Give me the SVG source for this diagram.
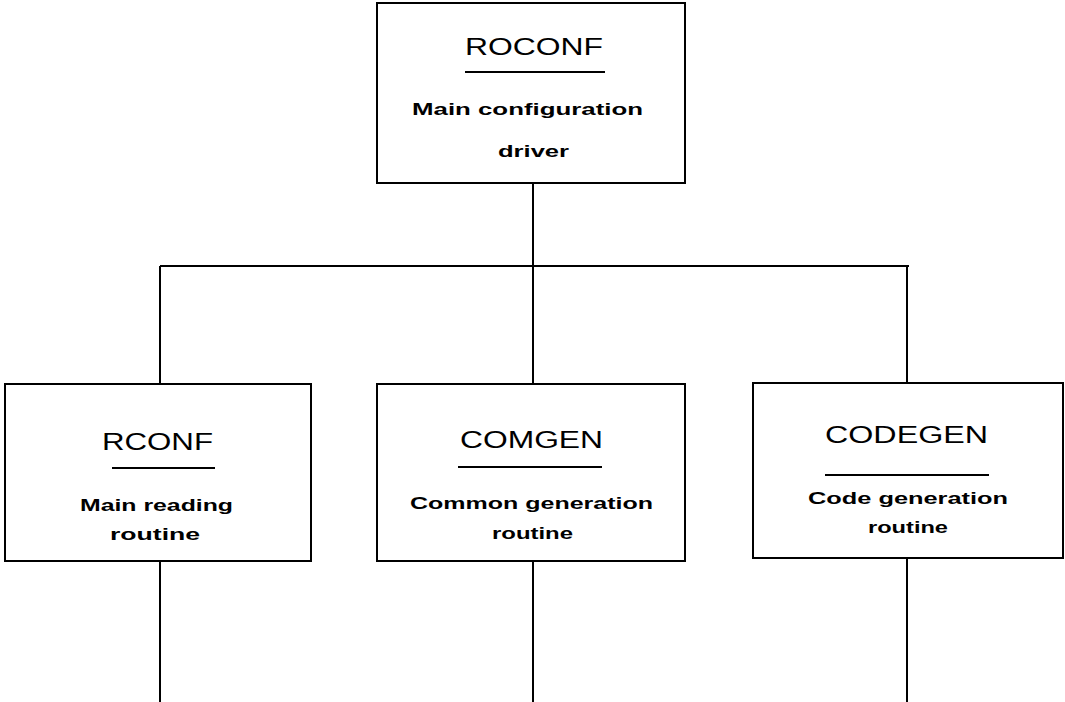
<svg xmlns="http://www.w3.org/2000/svg" width="1065" height="702" viewBox="0 0 1065 702">
<style>
.box{fill:#fff;stroke:#000;stroke-width:2}
.wire{fill:none;stroke:#000;stroke-width:2}
.ul{stroke:#000;stroke-width:2}
.t{font-family:"Liberation Sans",Arial,sans-serif;font-size:23px;fill:#000}
.s{font-family:"Liberation Sans",Arial,sans-serif;font-size:17px;font-weight:bold;fill:#000}
</style>
<rect width="1065" height="702" fill="#fff"/>
<g id="connectors">
<path class="wire" d="M533 183 V266"/>
<path class="wire" d="M160 266 H909"/>
<path class="wire" d="M160 266 V384"/>
<path class="wire" d="M533 266 V384"/>
<path class="wire" d="M907 266 V383"/>
<path class="wire" d="M160 561 V702"/>
<path class="wire" d="M533 561 V702"/>
<path class="wire" d="M907 558 V702"/>
</g>
<g id="roconf">
<rect class="box" x="377" y="3" width="308" height="180"/>
<text class="t" x="465" y="55" textLength="138" lengthAdjust="spacingAndGlyphs">ROCONF</text>
<line class="ul" x1="465" y1="72" x2="605" y2="72"/>
<text class="s" x="412" y="115" textLength="231" lengthAdjust="spacingAndGlyphs">Main configuration</text>
<text class="s" x="498" y="157" textLength="71" lengthAdjust="spacingAndGlyphs">driver</text>
</g>
<g id="rconf">
<rect class="box" x="5" y="384" width="306" height="177"/>
<text class="t" x="102" y="450" textLength="111" lengthAdjust="spacingAndGlyphs">RCONF</text>
<line class="ul" x1="112" y1="468" x2="215" y2="468"/>
<text class="s" x="80" y="511" textLength="153" lengthAdjust="spacingAndGlyphs">Main reading</text>
<text class="s" x="110" y="540" textLength="90" lengthAdjust="spacingAndGlyphs">routine</text>
</g>
<g id="comgen">
<rect class="box" x="377" y="384" width="308" height="177"/>
<text class="t" x="460" y="448" textLength="143" lengthAdjust="spacingAndGlyphs">COMGEN</text>
<line class="ul" x1="458" y1="467" x2="602" y2="467"/>
<text class="s" x="410" y="509" textLength="243" lengthAdjust="spacingAndGlyphs">Common generation</text>
<text class="s" x="492" y="539" textLength="81" lengthAdjust="spacingAndGlyphs">routine</text>
</g>
<g id="codegen">
<rect class="box" x="753" y="383" width="310" height="175"/>
<text class="t" x="825" y="443" textLength="163" lengthAdjust="spacingAndGlyphs">CODEGEN</text>
<line class="ul" x1="825" y1="475" x2="989" y2="475"/>
<text class="s" x="808" y="504" textLength="200" lengthAdjust="spacingAndGlyphs">Code generation</text>
<text class="s" x="868" y="533" textLength="80" lengthAdjust="spacingAndGlyphs">routine</text>
</g>
</svg>
